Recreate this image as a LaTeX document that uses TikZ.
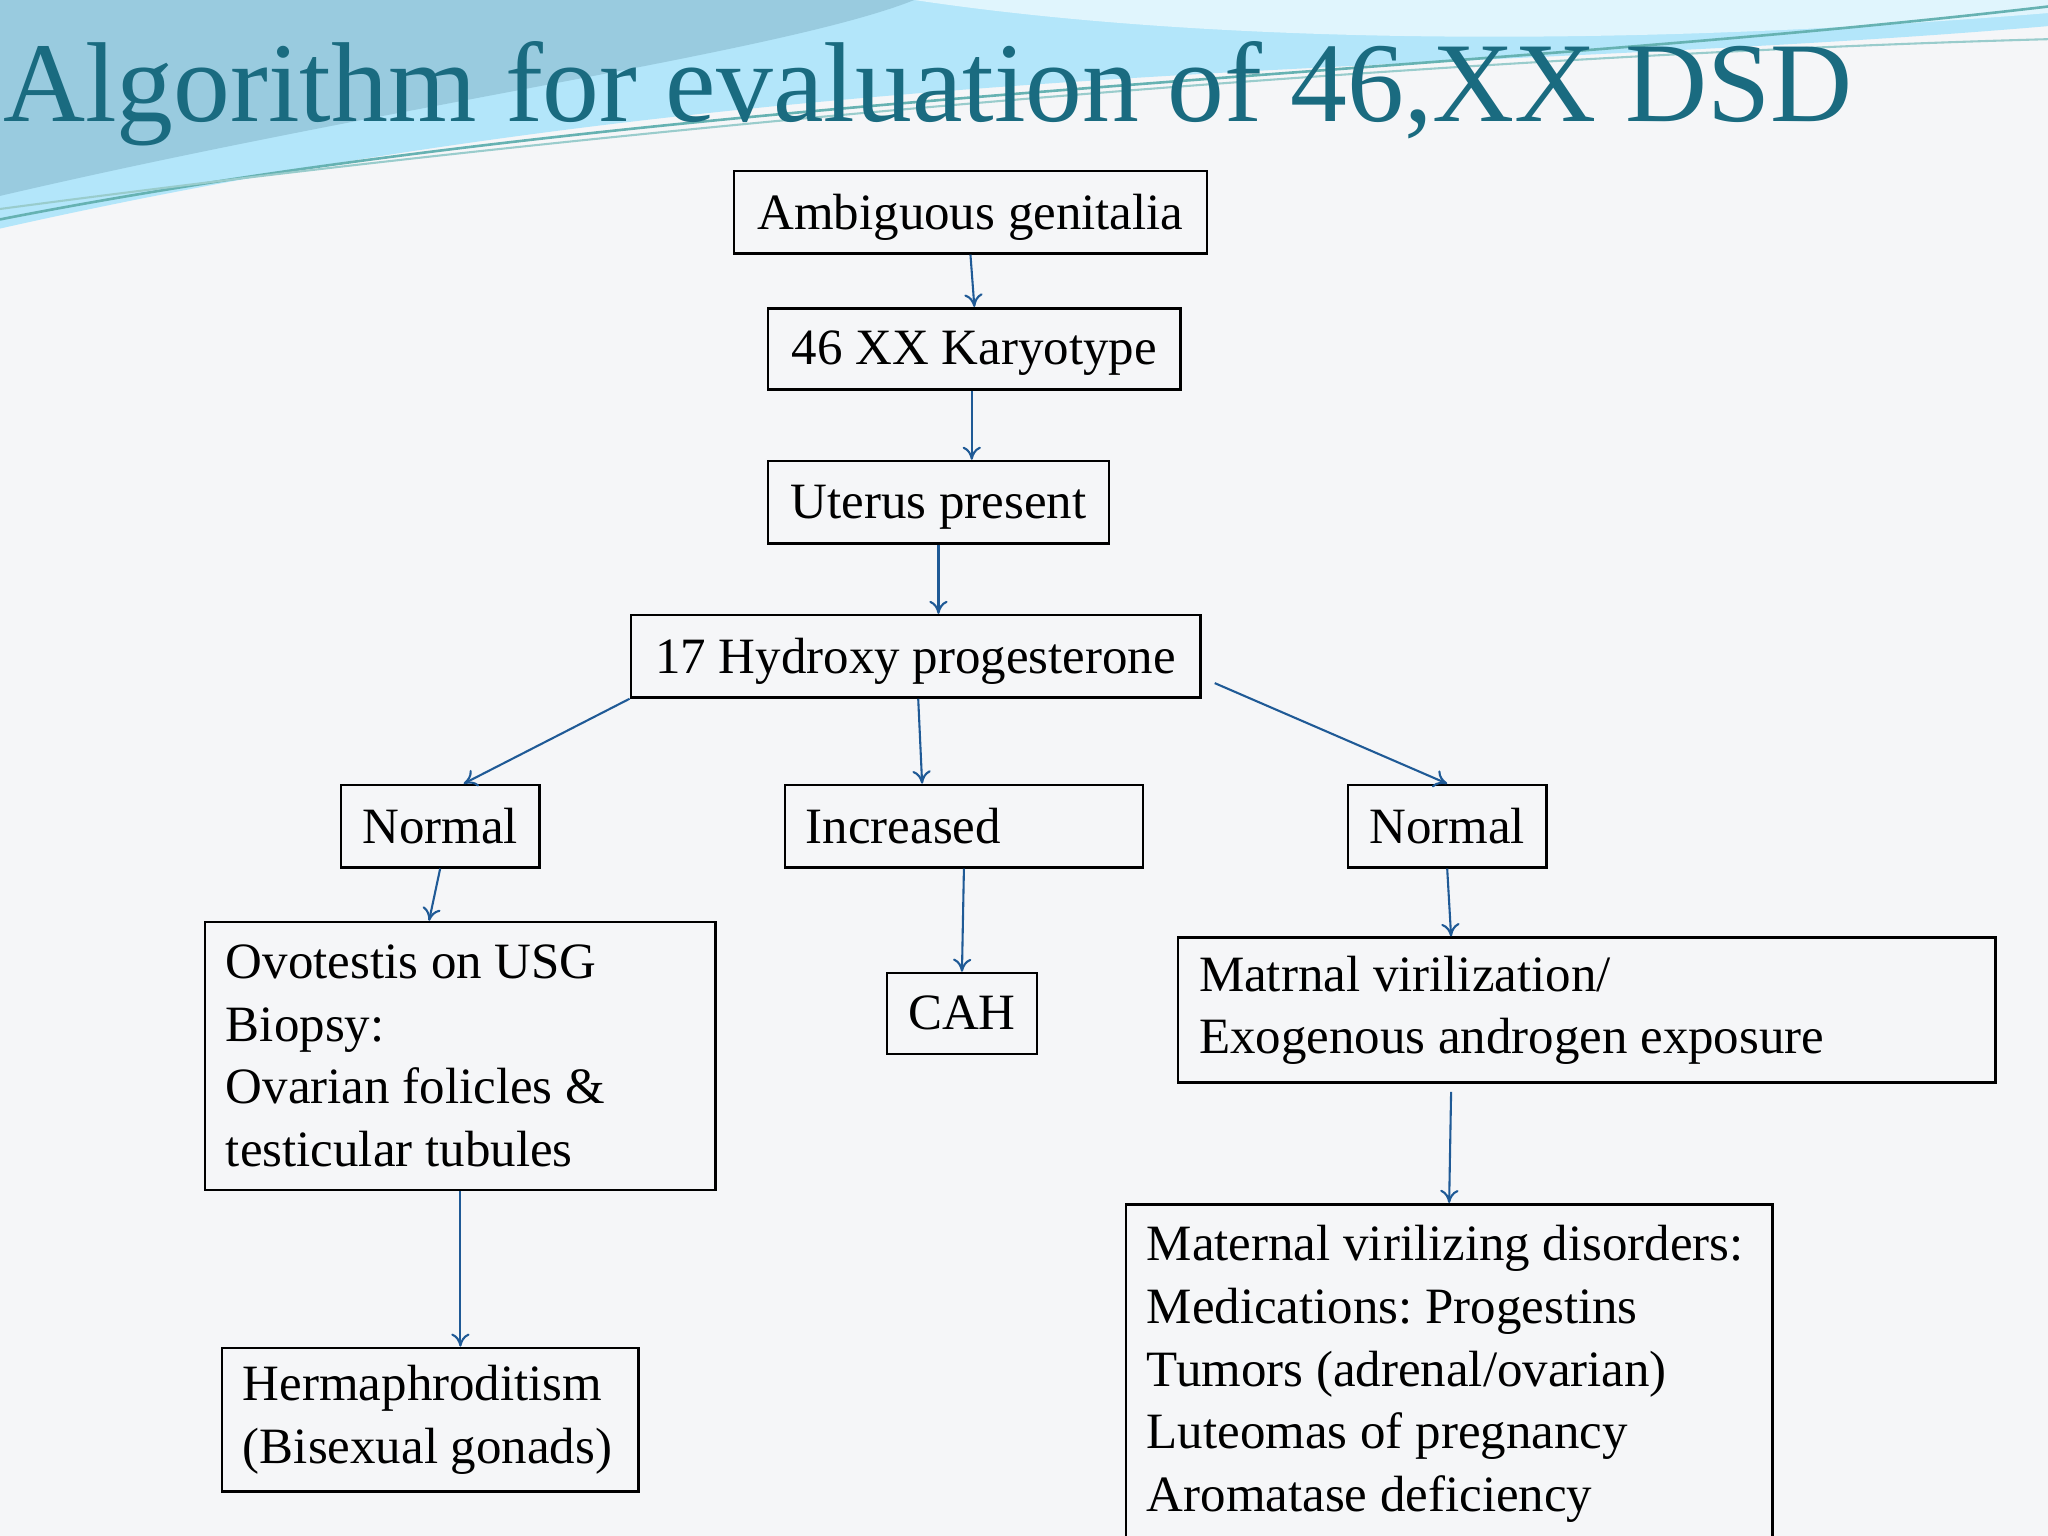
\documentclass[tikz,border=0pt]{standalone}
\usepackage{fontspec}
\setmainfont{Liberation Serif}
\frenchspacing
\usetikzlibrary{arrows.meta}
\definecolor{bg}{HTML}{F5F6F8}
\definecolor{arr}{HTML}{1F5A96}
\definecolor{ttl}{HTML}{1A6B80}
\begin{document}
\begin{tikzpicture}[x=0.5pt,y=-0.5pt,
  box/.style={draw,line width=1pt,inner sep=0pt,font=\fontsize{19.5}{24}\selectfont},
  sbox/.style={box,text depth=0.5pt},
  lbox/.style={box,align=flush left},
  con/.style={draw=arr,line width=0.8pt,-{To[length=5pt,width=7pt]}}]
\useasboundingbox (0,0) rectangle (1568,1176);
\clip (0,0) rectangle (1568,1176);
\fill[bg] (0,0) rectangle (1568,1176);
% top wave
\fill[cyan!30!white] (0,0) -- (1568,0) -- (1568,20) .. controls (1100,60) and (600,40) .. (0,175) -- cycle;
\fill[cyan!45!teal!45!white] (0,0) -- (700,0) .. controls (600,40) and (300,80) .. (0,150) -- cycle;
\fill[cyan!12!white] (700,0) -- (1568,0) -- (1568,10) .. controls (1200,40) and (900,30) .. (700,0) -- cycle;
\draw[teal!60,line width=1pt] (0,168) .. controls (500,70) and (1100,60) .. (1568,5);
\draw[teal!40,line width=0.8pt] (0,160) .. controls (600,80) and (1200,40) .. (1568,30);
\node[anchor=west,text=ttl,font=\fontsize{43.5}{47}\selectfont,inner sep=0pt] (title) at (2,72) {Algorithm for evaluation of 46,XX DSD};
% boxes
\node[sbox,minimum width=181pt,minimum height=31.5pt] (A) at (743,162.5) {Ambiguous genitalia};
\node[sbox,minimum width=158pt,minimum height=31pt] (B) at (746,267) {46 XX Karyotype};
\node[sbox,minimum width=130.5pt,minimum height=31.5pt] (C) at (718.5,384.5) {Uterus present};
\node[sbox,minimum width=218pt,minimum height=31.5pt] (D) at (701,502.5) {17 Hydroxy progesterone};
\node[sbox,minimum width=76pt,minimum height=31.5pt] (N1) at (337,632.5) {Normal};
\node[sbox,minimum width=137pt,minimum height=31.5pt,text width=121pt,align=flush left] (I) at (738,632.5) {Increased};
\node[sbox,minimum width=76pt,minimum height=31.5pt] (N2) at (1108,632.5) {Normal};
\node[lbox,minimum width=195.5pt,minimum height=102.5pt,text width=179.5pt] (O) at (352.5,808.5) {Ovotestis on USG\\Biopsy:\\Ovarian folicles \&\\testicular tubules};
\node[sbox,minimum width=57.5pt,minimum height=31pt] (CAH) at (736.5,776) {CAH};
\node[lbox,minimum width=313pt,minimum height=55.5pt,text width=297pt] (M) at (1215,773.5) {Matrnal virilization/\\Exogenous androgen exposure};
\node[lbox,minimum width=159.5pt,minimum height=55pt,text width=143.5pt] (H) at (329.5,1087) {Hermaphroditism\\(Bisexual gonads)};
\node[lbox,minimum width=247.5pt,minimum height=130pt,text width=231.5pt] (MV) at (1109.5,1052) {Maternal virilizing disorders:\\Medications: Progestins\\Tumors (adrenal/ovarian)\\Luteomas of pregnancy\\Aromatase deficiency};
% connectors
\draw[con] (A.south) -- (B.north);
\draw[con] ([xshift=-1pt]B.south) -- ([xshift=-1pt]B.south |- C.north);
\draw[con] (C.south) -- (C.south |- D.north);
\draw[con] (D.south west) -- ([xshift=9pt]N1.north);
\draw[con] ([xshift=1pt]D.south) -- ([xshift=-16pt]I.north);
\draw[con] ([xshift=5pt,yshift=6pt]D.south east) -- (N2.north);
\draw[con] (N1.south) -- ([xshift=-12pt]O.north);
\draw[con] (I.south) -- (CAH.north);
\draw[con] (N2.south) -- ([xshift=-52pt]M.north);
\draw[con] (O.south) -- (O.south |- H.north);
\draw[con] ([xshift=-52pt,yshift=-3pt]M.south) -- (MV.north);
\end{tikzpicture}
\end{document}
